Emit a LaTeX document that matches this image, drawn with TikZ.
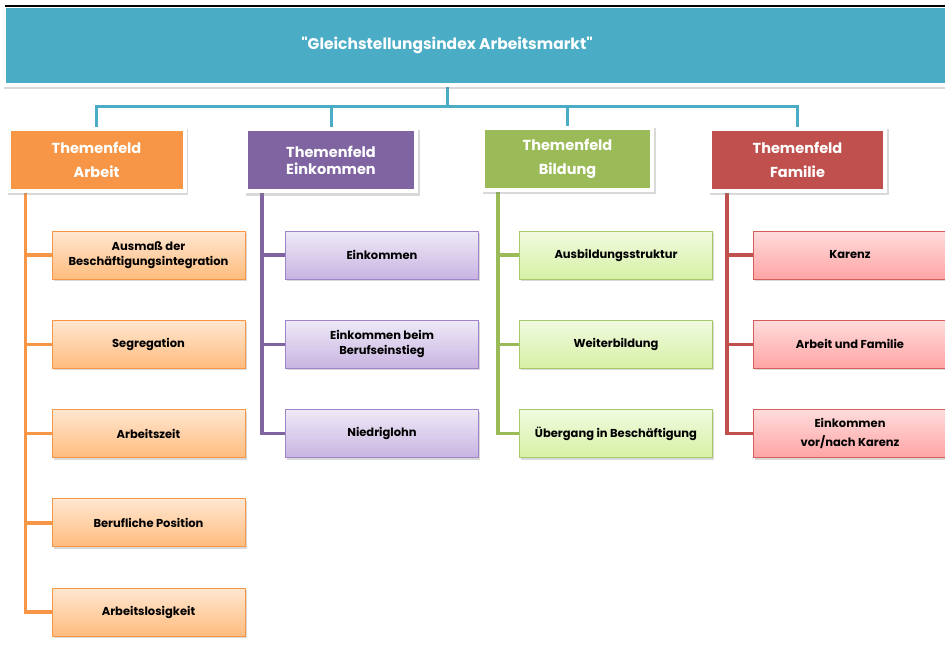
\documentclass[tikz,border=0pt]{standalone}
\usepackage{fontspec}
\setmainfont{Poppins}
\usetikzlibrary{shadows,backgrounds}
\definecolor{aqua}{HTML}{4BACC6}
\definecolor{orMain}{HTML}{F79646}
\definecolor{orTop}{HTML}{FFE7D1}
\definecolor{orBot}{HTML}{FFBC7E}
\definecolor{puMain}{HTML}{8064A2}
\definecolor{puLine}{HTML}{9F84C8}
\definecolor{puTop}{HTML}{EEEAF7}
\definecolor{puBot}{HTML}{C9B4E2}
\definecolor{grMain}{HTML}{9BBB59}
\definecolor{grLine}{HTML}{A8C86C}
\definecolor{grTop}{HTML}{F1FAE0}
\definecolor{grBot}{HTML}{D6F1A5}
\definecolor{reMain}{HTML}{C0504D}
\definecolor{reLine}{HTML}{D65E5A}
\definecolor{reTop}{HTML}{FFDCDC}
\definecolor{reBot}{HTML}{FFA4A4}

\begin{document}
\begin{tikzpicture}[x=1pt, y=-1pt,
    header/.style={fill=aqua, draw=white, line width=4pt, minimum width=956pt,
        minimum height=79pt, inner sep=0pt,
        drop shadow={opacity=0.3, shadow xshift=0pt, shadow yshift=-4pt}},
    titletext/.style={text=white, inner sep=0pt, font=\bfseries\fontsize{15.5}{18}\selectfont},
    topbox/.style={fill=white, minimum height=66pt, inner sep=0pt,
        align=center, text=white, font=\bfseries\fontsize{14.5}{24}\selectfont,
        drop shadow={opacity=0.3, shadow xshift=1.5pt, shadow yshift=-2.5pt},
        path picture={\fill[#1] ([xshift=4pt,yshift=-4pt]path picture bounding box.north west)
            rectangle ([xshift=-4pt,yshift=4pt]path picture bounding box.south east);}},
    subbox/.style={line width=1pt, minimum width=193pt, minimum height=48pt,
        inner sep=0pt, align=center, font=\bfseries\fontsize{11.5}{15}\selectfont,
        drop shadow={opacity=0.3, shadow xshift=1.5pt, shadow yshift=-2pt}},
    orsub/.style={subbox, draw=orMain, top color=orTop, bottom color=orBot},
    pusub/.style={subbox, draw=puLine, top color=puTop, bottom color=puBot},
    grsub/.style={subbox, draw=grLine, top color=grTop, bottom color=grBot},
    resub/.style={subbox, draw=reLine, top color=reTop, bottom color=reBot},
    treeline/.style={line width=3.5pt, line cap=rect}]
    \clip (0,0) rectangle (945,645);
    \def\dy{89.25} % distance between the sub boxes
    % Header
    \node[header] (title) at (482,45.5) {};
    \draw[black, line width=1.5pt] (5,6) -- (945,6);
    \node[titletext] (titletext) at (447,45) {\textquotedbl Gleichstellungsindex Arbeitsmarkt\textquotedbl};
    % Themenfelder
    \node[topbox=orMain, minimum width=180pt] (arbeit) at (96.5,159.5) {Themenfeld\\Arbeit};
    \node[topbox=puMain, minimum width=174pt,
        font=\bfseries\fontsize{14.5}{17}\selectfont] (einkommen) at (331,160) {Themenfeld\\Einkommen};
    \node[topbox=grMain, minimum width=173pt] (bildung) at (567.5,158.5) {Themenfeld\\Bildung};
    \node[topbox=reMain, minimum width=179pt] (familie) at (797.5,159.5) {Themenfeld\\Familie};
    % Sub boxes
    \foreach \t [count=\i] in {{Ausmaß der\\Beschäftigungsintegration},Segregation,
        Arbeitszeit,{Berufliche Position},Arbeitslosigkeit} {
        \node[orsub] (a\i) at (148.5,{255+\dy*(\i-1)}) {\t};
    }
    \foreach \t [count=\i] in {Einkommen,{Einkommen beim\\Berufseinstieg},Niedriglohn} {
        \node[pusub] (e\i) at (382,{255+\dy*(\i-1)}) {\t};
    }
    \foreach \t [count=\i] in {Ausbildungsstruktur,Weiterbildung,{Übergang in Beschäftigung}} {
        \node[grsub] (b\i) at (616,{255+\dy*(\i-1)}) {\t};
    }
    \foreach \t [count=\i] in {Karenz,{Arbeit und Familie},{Einkommen\\[4pt]vor/nach Karenz}} {
        \node[resub] (f\i) at (850,{255+\dy*(\i-1)}) {\t};
    }
    % Connectors
    \begin{pgfonlayer}{background}
        \coordinate (hub) at (447,106);
        \draw[treeline, aqua, line width=3pt] (titletext |- title.south) -- (hub);
        \foreach \n in {arbeit,einkommen,bildung,familie}
            \draw[treeline, aqua, line width=3pt] (hub) -| (\n.north);
        \coordinate (ta) at ([xshift=19pt]arbeit.south west);
        \coordinate (te) at ([xshift=18pt]einkommen.south west);
        \coordinate (tb) at ([xshift=17pt]bildung.south west);
        \coordinate (tf) at ([xshift=19pt]familie.south west);
        \foreach \i in {1,...,5}
            \draw[treeline, orMain] (ta) |- (a\i.west);
        \foreach \i in {1,...,3} {
            \draw[treeline, puMain] (te) |- (e\i.west);
            \draw[treeline, grMain] (tb) |- (b\i.west);
            \draw[treeline, reMain] (tf) |- (f\i.west);
        }
    \end{pgfonlayer}
\end{tikzpicture}
\end{document}
